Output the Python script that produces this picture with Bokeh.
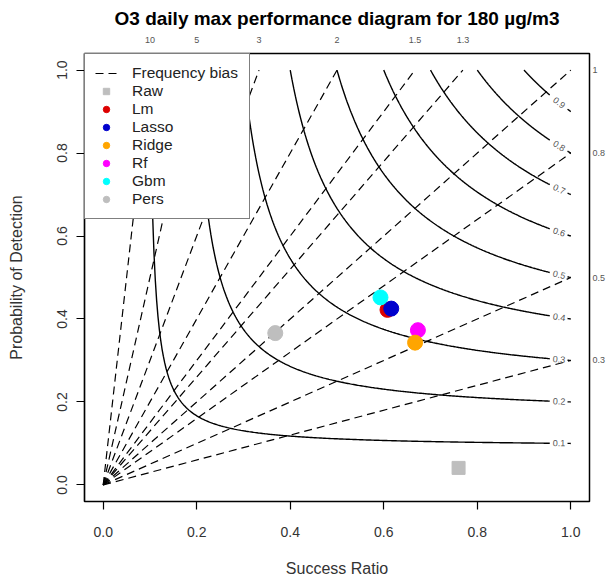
import math
import numpy as np
from bokeh.plotting import figure
from bokeh.models import (Range1d, LinearAxis, FixedTicker, Legend, LegendItem,
                          NumeralTickFormatter)
from bokeh.embed import file_html
from bokeh.resources import INLINE

# ---------------- data ----------------
chart_title = "O3 daily max performance diagram for 180 µg/m3"
models = ["Raw", "Lm", "Lasso", "Ridge", "Rf", "Gbm", "Pers"]
success_ratio = [0.760, 0.608, 0.616, 0.667, 0.673, 0.593, 0.368]
pod = [0.041, 0.422, 0.425, 0.343, 0.373, 0.452, 0.366]
model_colors = ["#BEBEBE", "#DD0000", "#0000CD", "#FFA500", "#FF00FF", "#00FFFF", "#BEBEBE"]
model_markers = ["square", "circle", "circle", "circle", "circle", "circle", "circle"]
draw_order = ["Raw", "Lm", "Lasso", "Rf", "Ridge", "Gbm", "Pers"]

bias_levels = [0.3, 0.5, 0.8, 1.0, 1.3, 1.5, 2.0, 3.0, 5.0, 10.0]
bias_labels = ["0.3", "0.5", "0.8", "1", "1.3", "1.5", "2", "3", "5", "10"]
csi_levels = [0.1, 0.2, 0.3, 0.4, 0.5, 0.6, 0.7, 0.8, 0.9]
csi_labels = ["0.1", "0.2", "0.3", "0.4", "0.5", "0.6", "0.7", "0.8", "0.9"]
axis_ticks = [0.0, 0.2, 0.4, 0.6, 0.8, 1.0]

FONT = "Liberation Sans"
TXT = "#333333"

p = figure(width=608, height=584, x_range=Range1d(-0.04, 1.04), y_range=Range1d(-0.04, 1.04),
           output_backend="svg", toolbar_location=None, title=chart_title,
           x_axis_label="Success Ratio", y_axis_label="Probability of Detection",
           min_border_left=84, min_border_right=16, min_border_top=53, min_border_bottom=83)
p.grid.visible = False
p.outline_line_color = "black"
p.outline_line_width = 1.5
p.background_fill_color = "white"
p.border_fill_color = "white"

p.title.text_font = FONT
p.title.text_font_size = "19px"
p.title.text_font_style = "bold"
p.title.align = "center"
p.title.text_color = "black"

for ax in (p.xaxis[0], p.yaxis[0]):
    ax.ticker = FixedTicker(ticks=axis_ticks)
    ax.formatter = NumeralTickFormatter(format="0.0")
    ax.major_tick_out = 8
    ax.major_tick_in = 0
    ax.minor_tick_line_color = None
    ax.axis_line_color = "black"
    ax.axis_line_width = 1.2
    ax.major_tick_line_width = 1.2
    ax.major_label_text_font = FONT
    ax.major_label_text_font_size = "14px"
    ax.major_label_text_color = TXT
    ax.axis_label_text_font = FONT
    ax.axis_label_text_font_size = "16px"
    ax.axis_label_text_font_style = "normal"
    ax.axis_label_text_color = TXT

p.xaxis[0].major_label_standoff = 17
p.xaxis[0].axis_label_standoff = 20
p.yaxis[0].major_label_orientation = "vertical"
p.yaxis[0].major_label_standoff = 9
p.yaxis[0].axis_label_standoff = 30

# top axis: bias labels for bias > 1 (where line meets POD = 1)
top_ticks = [1.0 / b for b in bias_levels if b > 1]
top_over = {1.0 / b: lab for b, lab in zip(bias_levels, bias_labels) if b > 1}
top_axis = LinearAxis(ticker=FixedTicker(ticks=top_ticks), major_label_overrides=top_over)
# right axis: bias labels for bias <= 1 (where line meets SR = 1)
right_ticks = [b for b in bias_levels if b <= 1]
right_over = {b: lab for b, lab in zip(bias_levels, bias_labels) if b <= 1}
right_axis = LinearAxis(ticker=FixedTicker(ticks=right_ticks), major_label_overrides=right_over)
for ax in (top_axis, right_axis):
    ax.axis_line_color = None
    ax.major_tick_line_color = None
    ax.minor_tick_line_color = None
    ax.major_tick_out = 0
    ax.major_tick_in = 0
    ax.major_label_text_font = FONT
    ax.major_label_text_font_size = "9px"
    ax.major_label_text_color = "#555555"
top_axis.major_label_standoff = 11
right_axis.major_label_standoff = 3
p.add_layout(top_axis, "above")
p.add_layout(right_axis, "right")

# frequency bias lines
bx, by = [], []
for b in bias_levels:
    if b <= 1:
        bx.append([0.0, 1.0]); by.append([0.0, b])
    else:
        bx.append([0.0, 1.0 / b]); by.append([0.0, 1.0])
bias_r = p.multi_line(xs=bx, ys=by, line_color="black", line_width=1.2, line_dash="8 5")

# CSI contours
px_per_x = 508 / 1.08
px_per_y = 448 / 1.08
lab_x, lab_y, lab_a = [], [], []
for c in csi_levels:
    sr1 = np.linspace(c, 0.955, 300)
    sr2 = np.linspace(0.993, 1.0, 5)
    sr = np.concatenate([sr1, [np.nan], sr2])
    pd_ = 1.0 / (1.0 / c - 1.0 / sr + 1.0)
    p.line(sr, pd_, line_color="black", line_width=1.4)
    sl = 0.975
    pl = 1.0 / (1.0 / c - 1.0 / sl + 1.0)
    slope = -(pl ** 2) / (sl ** 2)
    lab_x.append(sl); lab_y.append(pl)
    lab_a.append(math.atan(slope * px_per_y / px_per_x))
p.text(x=lab_x, y=lab_y, text=csi_labels, angle=lab_a, text_align="center",
       text_baseline="middle", text_font_size="9px", text_color="#555555",
       text_font={"value": FONT})

# points
renderers = {}
for name in draw_order:
    i = models.index(name)
    size = 13 if model_markers[i] == "square" else 15
    r = p.scatter(x=[success_ratio[i]], y=[pod[i]], marker=model_markers[i], size=size,
                  fill_color=model_colors[i], line_color=model_colors[i])
    renderers[name] = r

items = [LegendItem(label="Frequency bias", renderers=[bias_r])]
for name in models:
    items.append(LegendItem(label=name, renderers=[renderers[name]]))
legend = Legend(items=items, location="top_left", margin=0, padding=10, spacing=0,
                glyph_height=16, glyph_width=22, label_height=16, label_width=107,
                label_standoff=15, label_text_font=FONT, label_text_font_size="15.5px",
                label_text_color="#222222", border_line_color="black", border_line_width=1.2,
                background_fill_color="white", background_fill_alpha=1.0)
p.add_layout(legend)

open("out.html", "w").write(file_html(p, INLINE))
